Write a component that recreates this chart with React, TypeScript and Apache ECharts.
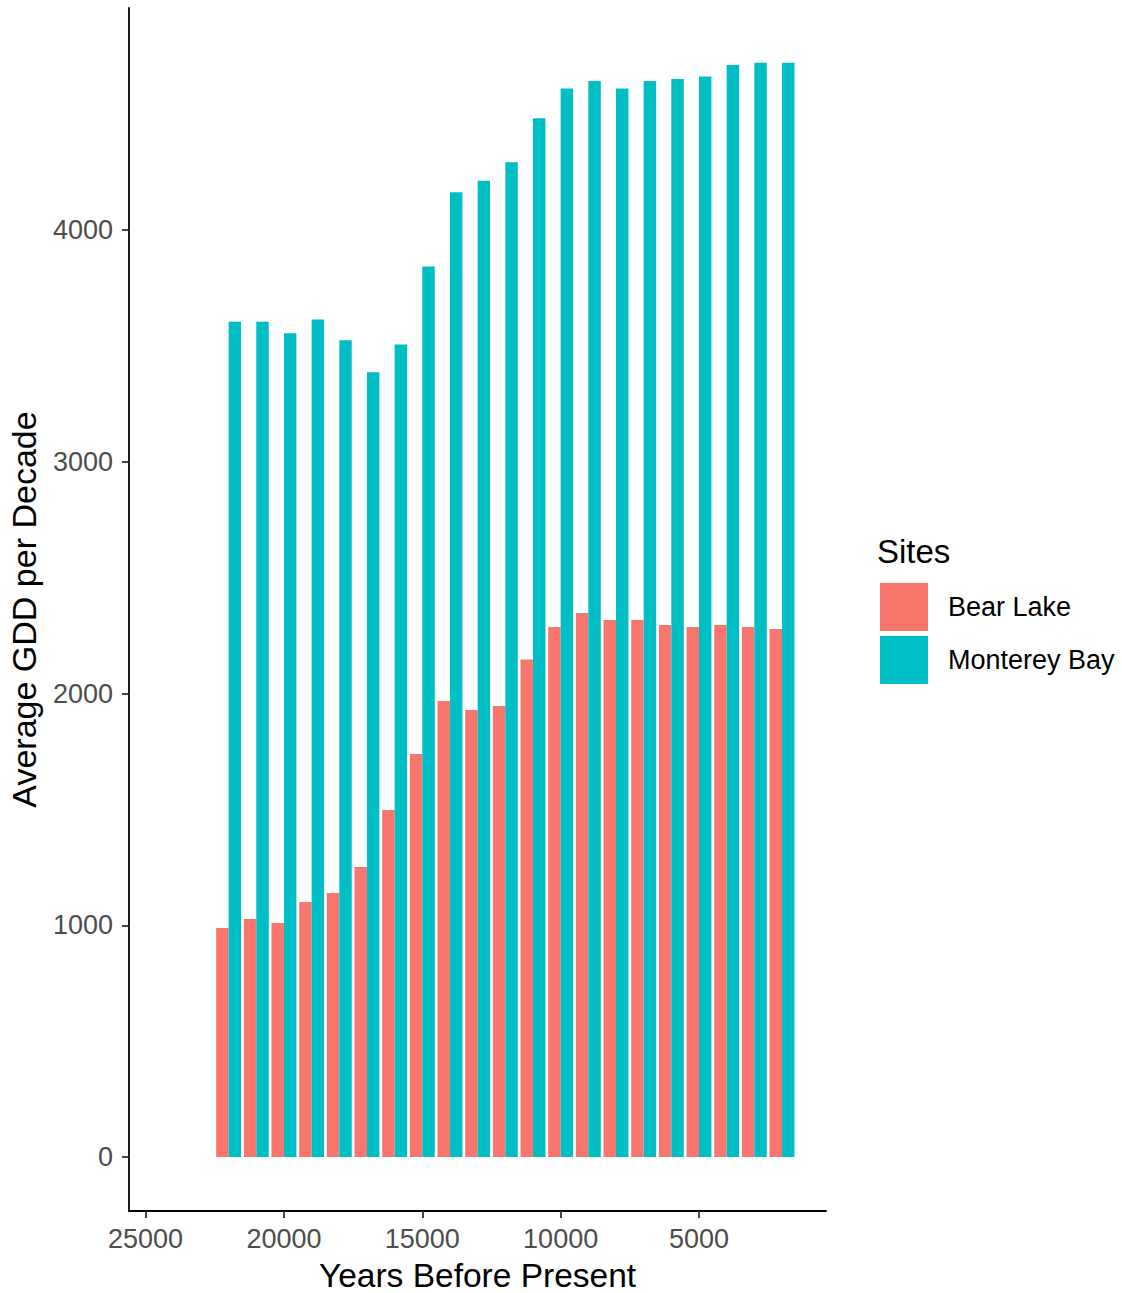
import React, { useEffect, useRef } from 'react';
import * as echarts from 'echarts';

const years = [22000, 21000, 20000, 19000, 18000, 17000, 16000, 15000, 14000, 13000, 12000, 11000, 10000, 9000, 8000, 7000, 6000, 5000, 4000, 3000, 2000];
const bearLake = [988, 1027, 1010, 1100, 1139, 1251, 1497, 1739, 1968, 1929, 1946, 2147, 2287, 2347, 2317, 2317, 2296, 2287, 2296, 2287, 2278];
const montereyBay = [3604, 3604, 3554, 3614, 3524, 3386, 3506, 3843, 4163, 4213, 4292, 4482, 4611, 4643, 4611, 4643, 4652, 4662, 4712, 4722, 4722];
const xTicks = [25000, 20000, 15000, 10000, 5000];
const yTicks = [0, 1000, 2000, 3000, 4000];
const siteNames = ['Bear Lake', 'Monterey Bay'];
const siteColors = ['#F8766D', '#00BFC4'];

const FONT = '"Liberation Sans", Arial, Helvetica, sans-serif';
const HALF = 450; // half of a dodged group's width, in years

function barRender(from: number, to: number, color: string) {
  return (params: any, api: any) => {
    const x = api.value(0) as number;
    const v = api.value(1) as number;
    const p1 = api.coord([x + from, v]);
    const p2 = api.coord([x + to, 0]);
    const left = Math.min(p1[0], p2[0]);
    const w = Math.abs(p2[0] - p1[0]);
    return {
      type: 'rect',
      shape: { x: left, y: p1[1], width: w, height: p2[1] - p1[1] },
      style: { fill: color },
    };
  };
}

export default function App() {
  const ref = useRef<HTMLDivElement>(null);
  useEffect(() => {
    if (!ref.current) return;
    const chart = echarts.init(ref.current, null, { renderer: 'svg' });
    chart.setOption({
      animation: false,
      grid: { left: 129, right: 296, top: 8, bottom: 82, containLabel: false, outerBoundsMode: 'none' },
      xAxis: {
        type: 'value',
        inverse: true,
        min: 410,
        max: 25600,
        name: 'Years Before Present',
        nameLocation: 'middle',
        nameGap: 51,
        nameTextStyle: { fontSize: 33.5, lineHeight: 26, color: '#000', fontFamily: FONT },
        axisLine: { onZero: false, lineStyle: { color: '#000', width: 1.8 } },
        axisTick: { customValues: xTicks, length: 7, lineStyle: { color: '#333', width: 1.8 } },
        axisLabel: {
          customValues: xTicks,
          margin: 14,
          fontSize: 27,
          color: '#4D4D4D',
          fontFamily: FONT,
          formatter: (v: number) => String(v),
        },
        splitLine: { show: false },
      },
      yAxis: {
        type: 'value',
        min: -233,
        max: 4958,
        name: 'Average GDD per Decade',
        nameLocation: 'middle',
        nameGap: 88,
        nameTextStyle: { fontSize: 34, color: '#000', fontFamily: FONT },
        axisLine: { show: true, onZero: false, lineStyle: { color: '#000', width: 1.8 } },
        axisTick: { show: true, customValues: yTicks, length: 7, lineStyle: { color: '#333', width: 1.8 } },
        axisLabel: {
          customValues: yTicks,
          margin: 16,
          fontSize: 27,
          color: '#4D4D4D',
          fontFamily: FONT,
          formatter: (v: number) => String(v),
        },
        splitLine: { show: false },
      },
      legend: {
        orient: 'vertical',
        left: 875,
        top: 578,
        itemWidth: 48,
        itemHeight: 48,
        itemGap: 5,
        icon: 'rect',
        data: siteNames,
        textStyle: { fontSize: 27, color: '#000', fontFamily: FONT, padding: [0, 0, 0, 15] },
      },
      graphic: [
        {
          type: 'text',
          left: 877,
          top: 535,
          style: { text: 'Sites', fontSize: 33, fill: '#000', fontFamily: FONT },
        },
      ],
      series: [
        {
          name: siteNames[0],
          type: 'custom',
          itemStyle: { color: siteColors[0] },
          encode: { x: 0, y: 1 },
          data: years.map((y, i) => [y, bearLake[i]]),
          renderItem: barRender(0, HALF, siteColors[0]),
        },
        {
          name: siteNames[1],
          type: 'custom',
          itemStyle: { color: siteColors[1] },
          encode: { x: 0, y: 1 },
          data: years.map((y, i) => [y, montereyBay[i]]),
          renderItem: barRender(-HALF, 0, siteColors[1]),
        },
      ],
    });
    return () => chart.dispose();
  }, []);
  return (
    <div
      ref={ref}
      style={{ position: 'fixed', left: 0, top: 0, width: 1122, height: 1293, background: '#fff' }}
    />
  );
}
